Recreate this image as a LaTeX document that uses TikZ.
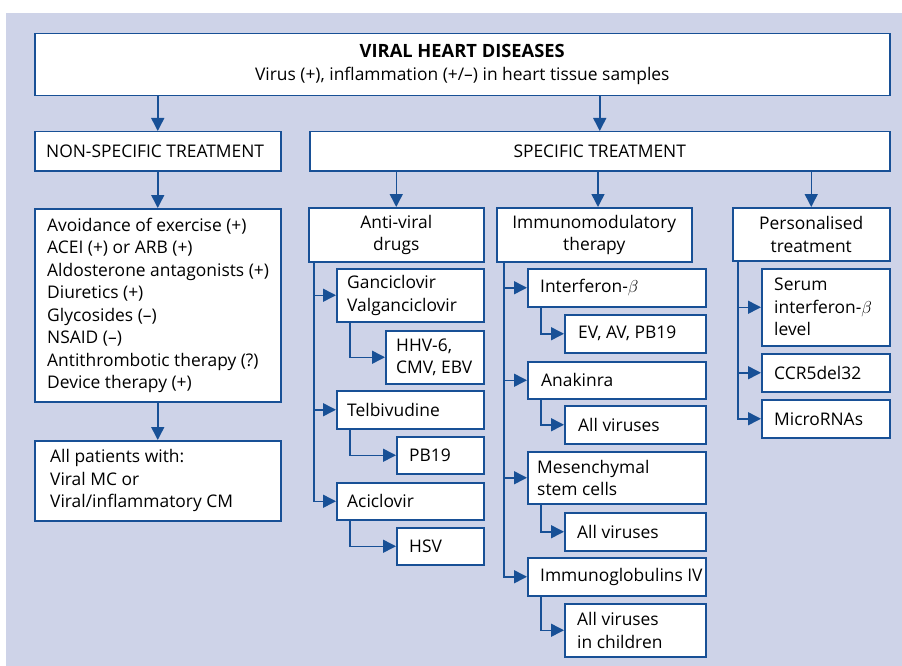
\documentclass[tikz,border=0pt]{standalone}
\usepackage{fontspec}
\setmainfont{Open Sans}
\usetikzlibrary{arrows.meta}
\definecolor{bgc}{RGB}{206,211,232}
\definecolor{lb}{RGB}{24,80,150}
\tikzset{
  bx/.style={draw=lb, fill=white, line width=1.5pt, inner sep=0pt, rectangle},
  txt/.style={inner sep=0pt, align=left, font=\fontsize{17.4}{22.5}\selectfont},
  arr/.style={draw=lb, line width=1.5pt, -{Triangle[length=13pt,width=13pt]}},
}
\newcommand\mybox[7]{%
  \node[bx, minimum width=#4pt, minimum height=#5pt, anchor=north west] (#1) at (#2,#3) {};
  \node[txt, anchor=west] (#1-t) at ([xshift=#6pt]#1.west) {#7};}
\newcommand\mycbox[6]{%
  \node[bx, minimum width=#4pt, minimum height=#5pt, anchor=north west, align=center, font=\fontsize{17.4}{22.5}\selectfont] (#1) at (#2,#3) {#6};}
\begin{document}
\begin{tikzpicture}[x=1pt,y=-1pt]
\useasboundingbox (0,0) rectangle (902,666);
\fill[bgc] (6,13) rectangle (902,666);
% top level
\node[bx, minimum width=855pt, minimum height=62pt, anchor=north west, align=center, font=\fontsize{17.4}{23}\selectfont] (top) at (34,33) {{\fontsize{18.3}{23}\selectfont\bfseries VIRAL HEART DISEASES}\\Virus (+), inflammation (+/–) in heart tissue samples};
\mybox{nonspec}{34}{131}{246}{39}{12}{NON-SPECIFIC TREATMENT}
\mycbox{spec}{309}{131}{580}{39}{SPECIFIC TREATMENT}
\mybox{nsbox}{34}{208}{246}{193}{13}{Avoidance of exercise (+)\\ACEI (+) or ARB (+)\\Aldosterone antagonists (+)\\Diuretics (+)\\Glycosides (–)\\NSAID (–)\\Antithrombotic therapy (?)\\Device therapy (+)}
\mybox{allp}{34}{440}{246}{80}{16}{All patients with:\\Viral MC or\\Viral/inflammatory CM}
% second level
\mycbox{antiviral}{308}{207}{175}{54}{Anti-viral\\drugs}
\mycbox{immuno}{496}{207}{195}{54}{Immunomodulatory\\therapy}
\mycbox{personal}{732}{207}{157}{53}{Personalised\\treatment}
% anti-viral
\mybox{gan}{336}{268}{147}{53}{11}{Ganciclovir\\Valganciclovir}
\mybox{hhv}{385}{330}{98}{53}{11}{HHV-6,\\CMV, EBV}
\mybox{telb}{336}{390}{147}{38}{11}{Telbivudine}
\mybox{pb}{396}{436}{87}{37}{13}{PB19}
\mybox{acic}{336}{482}{147}{37}{11}{Aciclovir}
\mybox{hsv}{396}{527}{87}{37}{13}{HSV}
% immunomodulatory
\mybox{ifn}{527}{268}{178}{38}{13}{Interferon-$\beta$}
\mybox{ev}{564}{314}{141}{38}{14}{EV, AV, PB19}
\mybox{anak}{527}{361}{178}{37}{14}{Anakinra}
\mybox{allva}{564}{405}{141}{38}{14}{All viruses}
\mybox{mes}{527}{451}{178}{52}{10}{Mesenchymal\\stem cells}
\mybox{allvb}{564}{512}{141}{38}{13}{All viruses}
\mybox{igiv}{527}{557}{178}{38}{13}{Immunoglobulins IV}
\mybox{child}{564}{603}{141}{53}{13}{All viruses\\in children}
% personalised
\mybox{serum}{761}{268}{128}{77}{13}{Serum\\interferon-$\beta$\\level}
\mybox{ccr}{761}{353}{128}{38}{13}{CCR5del32}
\mybox{mirna}{761}{399}{128}{38}{13}{MicroRNAs}
% connectors
\coordinate (imx) at (598,0);
\draw[arr] (top.south -| nonspec.north) -- (nonspec.north);
\draw[arr] (top.south -| spec.north) -- (spec.north);
\draw[arr] (nonspec.south) -- (nsbox.north);
\draw[arr] (nsbox.south) -- (allp.north);
\draw[arr] (spec.south -| antiviral.north) -- (antiviral.north);
\draw[arr] (spec.south -| imx) -- (imx |- immuno.north);
\draw[arr] (spec.south -| personal.north) -- (personal.north);
\draw[arr] ([xshift=6pt]antiviral.south west) |- (gan.west);
\draw[arr] ([xshift=6pt]antiviral.south west) |- (telb.west);
\draw[arr] ([xshift=6pt]antiviral.south west) |- (acic.west);
\draw[arr] ([xshift=14pt]gan.south west) |- (hhv.west);
\draw[arr] ([xshift=14pt]telb.south west) |- (pb.west);
\draw[arr] ([xshift=14pt]acic.south west) |- (hsv.west);
\draw[arr] ([xshift=8pt]immuno.south west) |- (ifn.west);
\draw[arr] ([xshift=8pt]immuno.south west) |- (anak.west);
\draw[arr] ([xshift=8pt]immuno.south west) |- (mes.west);
\draw[arr] ([xshift=8pt]immuno.south west) |- (igiv.west);
\draw[arr] ([xshift=14pt]ifn.south west) |- (ev.west);
\draw[arr] ([xshift=14pt]anak.south west) |- (allva.west);
\draw[arr] ([xshift=14pt]mes.south west) |- (allvb.west);
\draw[arr] ([xshift=14pt]igiv.south west) |- (child.west);
\draw[arr] ([xshift=6pt]personal.south west) |- (serum.west);
\draw[arr] ([xshift=6pt]personal.south west) |- (ccr.west);
\draw[arr] ([xshift=6pt]personal.south west) |- (mirna.west);
\end{tikzpicture}
\end{document}
